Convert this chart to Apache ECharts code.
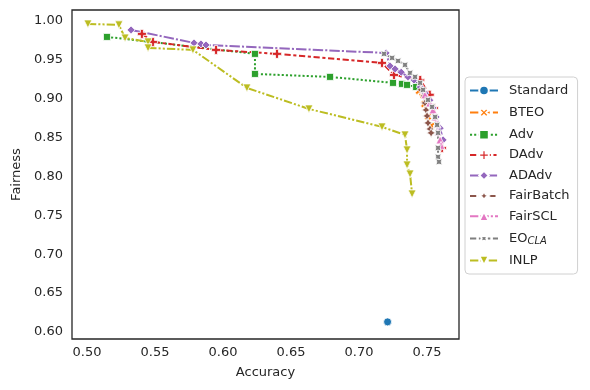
<!DOCTYPE html>
<html>
<head>
<meta charset="utf-8">
<script src="https://cdn.jsdelivr.net/npm/echarts@6/dist/echarts.min.js"></script>
<style>
  html, body { margin: 0; padding: 0; background: #fff; }
  #main { width: 590px; height: 390px; }
</style>
</head>
<body>
<div id="main"></div>
<script>
// [accuracy, fairness]
const standardPts = [[0.721, 0.613]];
const bteoPts = [[0.744, 0.910], [0.748, 0.893], [0.7507, 0.877], [0.753, 0.865]];
const advPts = [
  [0.5147, 0.9794], [0.6235, 0.9576], [0.6235, 0.9318], [0.6787, 0.928],
  [0.725, 0.9203], [0.7316, 0.919], [0.7353, 0.9177], [0.742, 0.915]
];
const dadvPts = [
  [0.5404, 0.9833], [0.5485, 0.973], [0.5949, 0.9627], [0.6397, 0.9576],
  [0.7169, 0.946], [0.7257, 0.9305], [0.745, 0.924], [0.752, 0.905],
  [0.755, 0.888], [0.761, 0.8367]
];
const adadvPts = [
  [0.5324, 0.9884], [0.5787, 0.9717], [0.5838, 0.9704], [0.5875, 0.969],
  [0.7199, 0.9588], [0.7228, 0.9421], [0.7265, 0.9383], [0.731, 0.934],
  [0.736, 0.928], [0.7404, 0.924], [0.745, 0.915], [0.7485, 0.907],
  [0.752, 0.898], [0.7544, 0.888], [0.7566, 0.8765], [0.7596, 0.862],
  [0.7618, 0.847]
];
const fairbatchPts = [
  [0.7456, 0.9113], [0.7478, 0.9035], [0.7485, 0.8945], [0.7493, 0.8855],
  [0.75, 0.8778], [0.7507, 0.8688], [0.7522, 0.861], [0.753, 0.856]
];
const fairsclPts = [
  [0.7485, 0.905], [0.752, 0.8945], [0.7544, 0.8855], [0.7559, 0.8765],
  [0.7574, 0.8675], [0.7581, 0.857], [0.7596, 0.847], [0.7603, 0.84]
];
const eoclaPts = [
  [0.7184, 0.9576], [0.7243, 0.9524], [0.7287, 0.9486], [0.7338, 0.9434],
  [0.7375, 0.9331], [0.7412, 0.928], [0.7449, 0.9203], [0.7471, 0.9113],
  [0.7507, 0.8984], [0.7537, 0.8894], [0.7559, 0.8765], [0.7574, 0.8662],
  [0.7581, 0.856], [0.7581, 0.8367], [0.7581, 0.8251], [0.7588, 0.8187]
];
const inlpPts = [
  [0.5007, 0.9961], [0.5235, 0.9949], [0.528, 0.978], [0.5449, 0.973],
  [0.5449, 0.9653], [0.5779, 0.9627], [0.6176, 0.9138], [0.6632, 0.8868],
  [0.7169, 0.8637], [0.7338, 0.8534], [0.7353, 0.8341], [0.7353, 0.8148],
  [0.7375, 0.8032], [0.739, 0.7775]
];

const xTicks = [0.50, 0.55, 0.60, 0.65, 0.70, 0.75];
const yTicks = [0.60, 0.65, 0.70, 0.75, 0.80, 0.85, 0.90, 0.95, 1.00];

const PLUS = 'path://M-1,-3H1V-1H3V1H1V3H-1V1H-3V-1H-1Z';
const STAR4 = 'path://M0,-10L3.4,-3.4L10,0L3.4,3.4L0,10L-3.4,3.4L-10,0L-3.4,-3.4Z';

const k = 2.083; // 1.5pt line width in px, dashes scale with it
const dash = (arr) => arr.map((v) => v * k);

function mkSeries(name, data, color, type, symbol, size, rotate) {
  return {
    name: name,
    type: 'line',
    data: data,
    symbol: symbol,
    symbolSize: size,
    symbolRotate: rotate || 0,
    showAllSymbol: true,
    color: color,
    lineStyle: { color: color, width: 2, type: type },
    itemStyle: { color: color, borderColor: '#fff', borderWidth: 0.8 },
    emphasis: { disabled: true },
  };
}

const chart = echarts.init(document.getElementById('main'));
chart.setOption({
  animation: false,
  textStyle: { fontFamily: 'DejaVu Sans', color: '#262626' },
  grid: {
    left: 72, right: 131, top: 10, bottom: 51,
    show: true, borderColor: '#262626', borderWidth: 1.3,
  },
  xAxis: {
    type: 'value',
    min: 0.489, max: 0.7735,
    name: 'Accuracy',
    nameLocation: 'middle',
    nameGap: 27,
    nameTextStyle: { fontSize: 13, color: '#262626' },
    axisLine: { show: false },
    axisTick: { show: false },
    splitLine: { show: false },
    axisLabel: {
      customValues: xTicks,
      fontSize: 13, color: '#262626', margin: 7,
      formatter: (v) => v.toFixed(2),
    },
  },
  yAxis: {
    type: 'value',
    min: 0.591, max: 1.014,
    name: 'Fairness',
    nameLocation: 'middle',
    nameGap: 48,
    nameTextStyle: { fontSize: 13, color: '#262626' },
    axisLine: { show: false },
    axisTick: { show: false },
    splitLine: { show: false },
    axisLabel: {
      customValues: yTicks,
      fontSize: 13, color: '#262626', margin: 9,
      formatter: (v) => v.toFixed(2),
    },
  },
  legend: {
    orient: 'vertical',
    left: 465, top: 77,
    itemWidth: 28, itemHeight: 12,
    itemGap: 7.4,
    padding: [7, 8, 7, 4],
    borderColor: '#d0d0d0', borderWidth: 1, borderRadius: 4,
    textStyle: {
      fontSize: 13, color: '#262626',
      padding: [0, 0, 0, 6],
      rich: {
        sub: { fontSize: 10, fontStyle: 'italic', color: '#262626', padding: [5, 0, 0, 0] },
      },
    },
    formatter: (name) => (name === 'EO_CLA' ? 'EO{sub|CLA}' : name),
    data: ['Standard', 'BTEO', 'Adv', 'DAdv', 'ADAdv', 'FairBatch', 'FairSCL', 'EO_CLA', 'INLP'],
  },
  series: [
    mkSeries('Standard', standardPts, '#1f77b4', 'solid', 'circle', 8),
    mkSeries('BTEO', bteoPts, '#ff7f0e', dash([4, 1.5]), PLUS, 8, 45),
    mkSeries('Adv', advPts, '#2ca02c', dash([1, 1]), 'rect', 7),
    mkSeries('DAdv', dadvPts, '#d62728', dash([3, 1.25, 1.5, 1.25]), PLUS, 9),
    mkSeries('ADAdv', adadvPts, '#9467bd', dash([5, 1, 1, 1]), 'diamond', 8),
    mkSeries('FairBatch', fairbatchPts, '#8c564b', dash([3, 1.25, 1.25, 1.25, 1.25, 1.25]), STAR4, 9),
    mkSeries('FairSCL', fairsclPts, '#e377c2', dash([4, 1, 4, 1, 1, 1]), 'triangle', 8),
    mkSeries('EO_CLA', eoclaPts, '#7f7f7f', dash([3, 1.25, 3, 1.25, 1.25, 1.25]), STAR4, 9, 45),
    mkSeries('INLP', inlpPts, '#bcbd22', dash([4, 1, 1, 1, 1, 1]), 'triangle', 8, 180),
  ],
});
</script>
</body>
</html>
